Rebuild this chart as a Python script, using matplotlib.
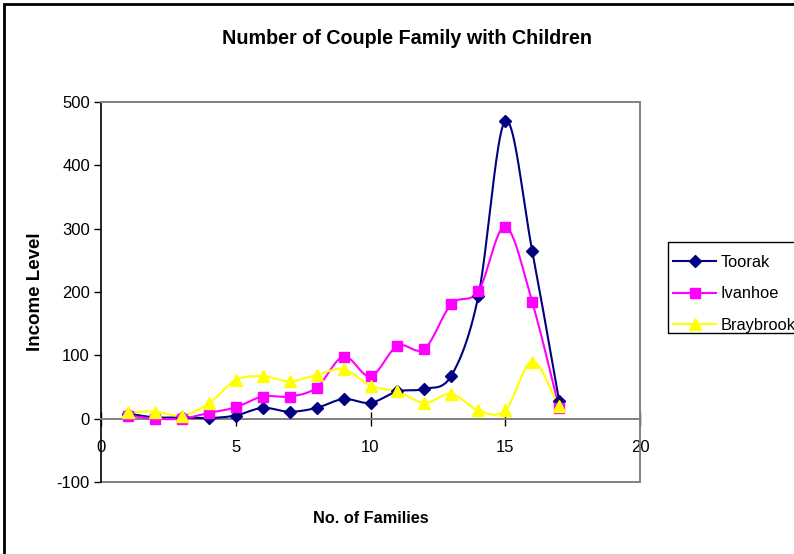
import numpy as np
import matplotlib.pyplot as plt
from matplotlib.lines import Line2D
from matplotlib.patches import Rectangle

# family counts (x) and income level for each suburb
families = [1, 2, 3, 4, 5, 6, 7, 8, 9, 10, 11, 12, 13, 14, 15, 16, 17]
toorak = [8, 2, 2, 1, 5, 17, 11, 17, 31, 25, 43, 47, 68, 193, 470, 265, 28]
ivanhoe = [5, 0, 0, 9, 18, 35, 35, 49, 98, 67, 115, 110, 181, 201, 303, 184, 17]
braybrook = [10, 11, 5, 24, 61, 67, 59, 69, 78, 52, 43, 25, 39, 13, 13, 90, 20]

x_ticks = [0, 5, 10, 15, 20]
y_ticks = [-100, 0, 100, 200, 300, 400, 500]

plt.rcParams['font.family'] = ['Liberation Sans', 'DejaVu Sans']
plt.rcParams['axes.unicode_minus'] = False


def smooth(xs, ys, n=24):
    # Catmull-Rom curve through the points, like a spreadsheet "smoothed line"
    xs = np.asarray(xs, float)
    ys = np.asarray(ys, float)
    px = np.concatenate([[2 * xs[0] - xs[1]], xs, [2 * xs[-1] - xs[-2]]])
    py = np.concatenate([[2 * ys[0] - ys[1]], ys, [2 * ys[-1] - ys[-2]]])
    t = np.linspace(0, 1, n, endpoint=False)
    outx, outy = [], []
    for i in range(1, len(px) - 2):
        for p, out in ((px, outx), (py, outy)):
            p0, p1, p2, p3 = p[i - 1], p[i], p[i + 1], p[i + 2]
            out.extend(0.5 * ((2 * p1) + (-p0 + p2) * t
                              + (2 * p0 - 5 * p1 + 4 * p2 - p3) * t ** 2
                              + (-p0 + 3 * p1 - 3 * p2 + p3) * t ** 3))
    outx.append(xs[-1])
    outy.append(ys[-1])
    return outx, outy


W, H = 794, 554
fig = plt.figure(figsize=(W / 100, H / 100), dpi=100)
ax = fig.add_axes([101 / W, 1 - 482 / H, 539 / W, 380 / H])

series = [
    ("Toorak", toorak, "#000080", "D", 6.5),
    ("Ivanhoe", ivanhoe, "#FF00FF", "s", 7),
    ("Braybrook", braybrook, "#FFFF00", "^", 9),
]
handles = []
for name, vals, col, mk, ms in series:
    sx, sy = smooth(families, vals)
    ax.plot(sx, sy, color=col, lw=1.5, zorder=3)
    ax.plot(families, vals, ls="none", marker=mk, ms=ms, color=col, zorder=4)
    handles.append(Line2D([], [], color=col, lw=1.5, marker=mk, ms=ms - 0.5))

ax.set_xlim(0, 20)
ax.set_ylim(-100, 500)
ax.set_xticks(x_ticks)
ax.set_yticks(y_ticks)

# axes frame: black value axis, grey outline, category axis crossing at zero
ax.spines['left'].set_color('black')
ax.spines['left'].set_linewidth(1.2)
for s in ('top', 'right'):
    ax.spines[s].set_color('#808080')
    ax.spines[s].set_linewidth(1.4)
ax.spines['bottom'].set_position(('data', 0))
ax.spines['bottom'].set_color('#808080')
ax.spines['bottom'].set_linewidth(1.4)
ax.axhline(-100, color='#808080', lw=1.4, clip_on=False)

ax.tick_params(axis='y', direction='out', length=5, width=1, labelsize=12, pad=3)
ax.tick_params(axis='x', direction='inout', length=10, width=1, labelsize=12, pad=10)

fig.text(407 / W, 1 - 38 / H, "Number of Couple Family with Children",
         fontsize=14.2, fontweight='bold', ha='center', va='center')
ax.set_ylabel("Income Level", fontsize=13.5, fontweight='bold')
ax.set_xlabel("No. of Families", fontsize=11.7, fontweight='bold')
ax.xaxis.set_label_coords(0.5, -(511 - 482) / 380)
ax.yaxis.set_label_coords(-(101 - 44) / 539, 0.5)

# legend entries without frame, box drawn separately
leg = fig.legend(handles, [s[0] for s in series], loc='upper left',
                 bbox_to_anchor=(668 / W, 1 - 250 / H), fontsize=11.8,
                 frameon=False, handlelength=2.65, handletextpad=0.25,
                 labelspacing=1.0, borderpad=0.3, borderaxespad=0)
fig.patches.append(Rectangle((668 / W, 1 - 333 / H), 0.3, 91 / H,
                             transform=fig.transFigure, fill=False,
                             edgecolor='black', lw=1.0))

# outer chart border
fig.patches.append(Rectangle((4 / W, -0.1), 1.2, 1 - 4 / H + 0.1,
                             transform=fig.transFigure, fill=False,
                             edgecolor='black', lw=2))

fig.savefig("out.png", dpi=100)
